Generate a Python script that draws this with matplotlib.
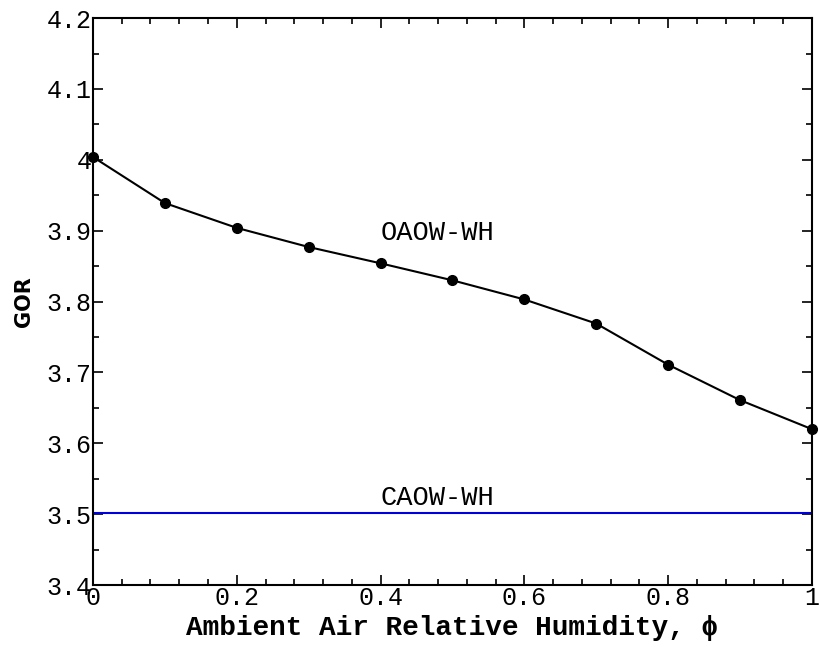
import numpy as np
import matplotlib.pyplot as plt
from matplotlib.ticker import MultipleLocator

phi = [0.0, 0.1, 0.2, 0.3, 0.4, 0.5, 0.6, 0.7, 0.8, 0.9, 1.0]
gor_oaow = [4.004, 3.939, 3.904, 3.877, 3.854, 3.830, 3.803, 3.769, 3.711, 3.661, 3.620]
gor_caow = [3.502] * len(phi)

xticks = [0, 0.2, 0.4, 0.6, 0.8, 1.0]
xtick_labels = ['0', '0.2', '0.4', '0.6', '0.8', '1']
yticks = [3.4, 3.5, 3.6, 3.7, 3.8, 3.9, 4.0, 4.1, 4.2]
ytick_labels = ['3.4', '3.5', '3.6', '3.7', '3.8', '3.9', '4', '4.1', '4.2']

mono = 'Liberation Mono'

fig = plt.figure(figsize=(8.2, 6.47), dpi=100)
ax = fig.add_axes([0.1134, 0.0958, 0.8766, 0.8762])

ax.plot(phi, gor_oaow, color='black', lw=1.5, marker='o', markersize=7, clip_on=False, zorder=3)
ax.plot(phi, gor_caow, color='#0000dd', lw=1.5)

ax.text(0.4, 3.897, 'OAOW-WH', family=mono, fontsize=19.5, va='center', ha='left')
ax.text(0.4, 3.505, 'CAOW-WH', family=mono, fontsize=19.5, va='bottom', ha='left')

ax.set_xlim(0, 1)
ax.set_ylim(3.4, 4.2)
ax.set_xticks(xticks)
ax.set_xticklabels(xtick_labels)
ax.set_yticks(yticks)
ax.set_yticklabels(ytick_labels)
ax.xaxis.set_minor_locator(MultipleLocator(0.04))
ax.yaxis.set_minor_locator(MultipleLocator(0.05))

ax.tick_params(which='both', direction='in', top=True, right=True, width=1.2)
ax.tick_params(which='major', length=7, labelsize=18, pad=1)
ax.tick_params(which='minor', length=4)
for lab in ax.get_xticklabels() + ax.get_yticklabels():
    lab.set_family(mono)
for s in ax.spines.values():
    s.set_linewidth(1.5)

ax.set_xlabel('Ambient Air Relative Humidity, ϕ', family=[mono, 'DejaVu Sans'], fontweight='bold',
              fontsize=20, labelpad=3)
ax.set_ylabel('GOR', family='DejaVu Sans', fontweight='bold', fontsize=15, labelpad=9)

fig.savefig('out.png', dpi=100)
